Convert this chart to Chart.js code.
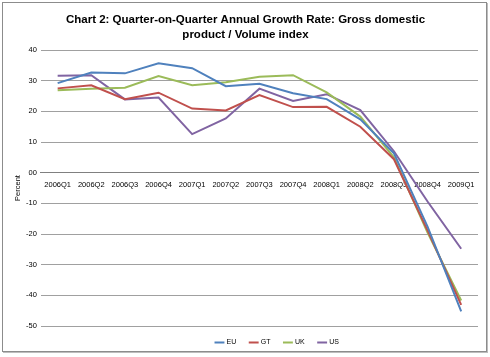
<!DOCTYPE html>
<html>
<head>
<meta charset="utf-8">
<script src="https://cdn.jsdelivr.net/npm/chart.js@4/dist/chart.umd.min.js"></script>
<style>
html,body{margin:0;padding:0;background:#fff;}
#wrap{position:absolute;left:0;top:0;width:490px;height:357px;}
#frame{position:absolute;left:2px;top:2px;width:483px;height:348px;border:1px solid #8c8c8c;box-shadow:1px 1px 0 #bdbdbd;}
canvas{position:absolute;left:0;top:0;}
</style>
</head>
<body>
<div id="wrap">
<div id="frame"></div>
<canvas id="c" width="490" height="357"></canvas>
</div>
<script>
const categories = ["2006Q1","2006Q2","2006Q3","2006Q4","2007Q1","2007Q2","2007Q3","2007Q4","2008Q1","2008Q2","2008Q3","2008Q4","2009Q1"];
const EU = [29.2, 32.7, 32.4, 35.7, 34.1, 28.2, 29.0, 25.9, 24.0, 17.4, 6.3, -17.6, -45.2];
const GT = [27.5, 28.5, 24.0, 26.1, 20.9, 20.3, 25.3, 21.4, 21.5, 15.0, 4.4, -18.8, -43.1];
const UK = [26.9, 27.4, 27.7, 31.5, 28.5, 29.5, 31.3, 31.8, 26.2, 18.3, 5.0, -19.5, -41.7];
const US = [31.6, 31.8, 23.9, 24.5, 12.6, 17.7, 27.4, 23.4, 25.6, 20.4, 7.0, -9.4, -24.8];
const yTickValues = [40, 30, 20, 10, 0, -10, -20, -30, -40, -50];
const yTickLabels = ["40", "30", "20", "10", "00", "-10", "-20", "-30", "-40", "-50"];
const titleLines = ["Chart 2: Quarter-on-Quarter Annual Growth Rate: Gross domestic", "product / Volume index"];

const fam = "'Liberation Sans', Arial, sans-serif";
const mk = (label, data, color) => ({label, data, borderColor: color, backgroundColor: color, borderWidth: 2, pointRadius: 0, tension: 0, fill: false});

const legendShift = {
  id: 'legendShift',
  afterLayout(chart) { if (chart.legend) { chart.legend.left += 18; chart.legend.right += 18; chart.legend.top -= 1; chart.legend.bottom -= 1; } }
};

new Chart(document.getElementById('c'), {
  type: 'line',
  data: {
    labels: categories,
    datasets: [
      mk('EU', EU, '#4F81BD'),
      mk('GT', GT, '#C0504D'),
      mk('UK', UK, '#9BBB59'),
      mk('US', US, '#8064A2')
    ]
  },
  plugins: [legendShift],
  options: {
    responsive: false,
    animation: false,
    devicePixelRatio: 1,
    layout: {padding: {left: 13, right: 12, top: 8, bottom: 0}},
    plugins: {
      title: {display: true, text: titleLines, color: '#000', font: {family: fam, size: 11.5, weight: 'bold', lineHeight: 1.35}, padding: {top: 4, bottom: 7}},
      legend: {position: 'bottom', fullSize: false, labels: {usePointStyle: true, pointStyle: 'line', boxWidth: 12, padding: 14, color: '#000', font: {family: fam, size: 7}}},
      tooltip: {enabled: false}
    },
    scales: {
      x: {
        type: 'category',
        position: {y: 0},
        offset: true,
        grid: {display: false, drawTicks: false},
        border: {display: true, color: '#808080', width: 1},
        ticks: {color: '#000', font: {family: fam, size: 7.5}, maxRotation: 0, autoSkip: false, padding: 8}
      },
      y: {
        min: -50, max: 40,
        afterBuildTicks: (s) => { s.ticks = yTickValues.map(v => ({value: v})); },
        grid: {color: '#a0a0a0', lineWidth: 1, drawTicks: false},
        border: {display: false},
        title: {display: true, text: 'Percent', color: '#000', font: {family: fam, size: 7.5}, padding: {top: 0, bottom: 0}},
        ticks: {color: '#000', font: {family: fam, size: 7.5}, padding: 4,
          callback: (v) => { const i = yTickValues.indexOf(v); return i >= 0 ? yTickLabels[i] : ''; }}
      }
    }
  }
});
</script>
</body>
</html>
